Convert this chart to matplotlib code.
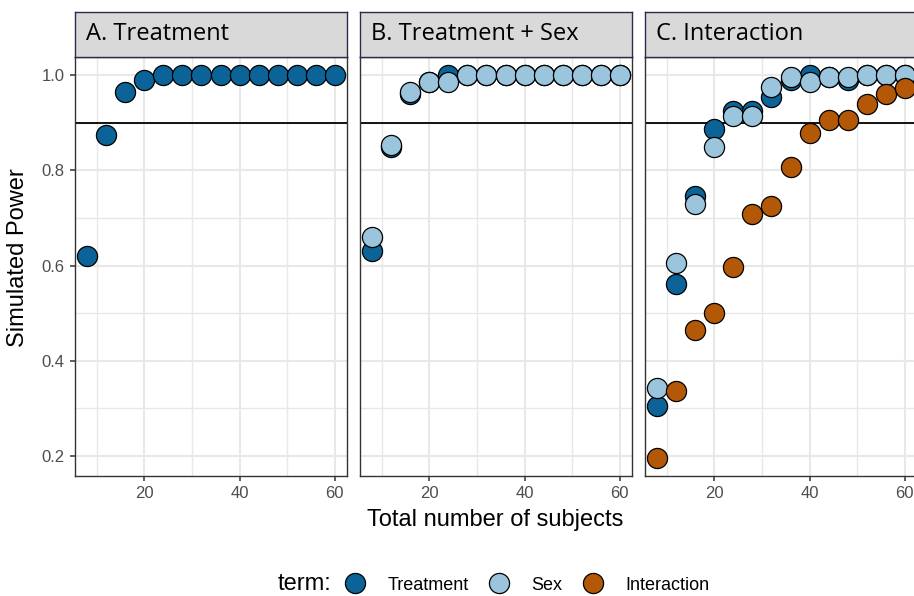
import matplotlib
matplotlib.use("Agg")
import matplotlib.pyplot as plt
from matplotlib.lines import Line2D

# ── Datos ────────────────────────────────────────────────────────────────
n_subjects = [8, 12, 16, 20, 24, 28, 32, 36, 40, 44, 48, 52, 56, 60]

# A. Treatment
a_treatment = [0.62, 0.875, 0.965, 0.99, 1.0, 1.0, 1.0, 1.0, 1.0, 1.0, 1.0, 1.0, 1.0, 1.0]

# B. Treatment + Sex
b_treatment = [0.63, 0.848, 0.96, 0.985, 1.0, 1.0, 1.0, 1.0, 1.0, 1.0, 1.0, 1.0, 1.0, 1.0]
b_sex       = [0.66, 0.853, 0.964, 0.985, 0.985, 1.0, 1.0, 1.0, 1.0, 1.0, 1.0, 1.0, 1.0, 1.0]

# C. Interaction
c_treatment   = [0.305, 0.561, 0.746, 0.886, 0.924, 0.924, 0.953, 0.99, 1.0, 0.996, 0.99, 1.0, 1.0, 1.0]
c_sex         = [0.343, 0.606, 0.730, 0.849, 0.914, 0.914, 0.975, 0.996, 0.986, 0.996, 0.995, 1.0, 1.0, 1.0]
c_interaction = [0.196, 0.337, 0.465, 0.50, 0.596, 0.709, 0.726, 0.806, 0.879, 0.905, 0.905, 0.94, 0.96, 0.972]

panel_titles = ["A. Treatment", "B. Treatment + Sex", "C. Interaction"]
term_labels  = ["Treatment", "Sex", "Interaction"]
term_colors  = {"Treatment": "#0b6397", "Sex": "#9ac5dc", "Interaction": "#b35806"}

paneles = [
    [("Treatment", a_treatment)],
    [("Treatment", b_treatment), ("Sex", b_sex)],
    [("Treatment", c_treatment), ("Sex", c_sex), ("Interaction", c_interaction)],
]

target_power = 0.9

# ── Figura ───────────────────────────────────────────────────────────────
W, H = 914, 596
fig = plt.figure(figsize=(W / 100, H / 100), dpi=100)

TXT = "Liberation Sans"
STRIP = "Open Sans"
grid_c = "#e8e8e8"

lefts = [75, 360, 645]
pw = 272
top, bottom = 57, 476
strip_top = 12

for i, (left, serie) in enumerate(zip(lefts, paneles)):
    ax = fig.add_axes([left / W, 1 - bottom / H, pw / W, (bottom - top) / H])
    ax.set_xlim(5.4, 62.6)
    ax.set_ylim(0.158, 1.038)
    ax.set_xticks([20, 40, 60])
    ax.set_xticks([10, 30, 50], minor=True)
    ax.set_yticks([0.2, 0.4, 0.6, 0.8, 1.0])
    ax.set_yticks([0.3, 0.5, 0.7, 0.9], minor=True)
    ax.grid(True, which="major", color=grid_c, lw=1.5, zorder=0)
    ax.grid(True, which="minor", color=grid_c, lw=1.0, zorder=0)
    ax.set_axisbelow(True)
    for s in ax.spines.values():
        s.set_color("#333333")
        s.set_linewidth(1.0)
    ax.tick_params(which="major", length=3.5, width=1.1, color="#333333",
                   labelsize=12, labelcolor="#4d4d4d", pad=4)
    ax.tick_params(which="minor", length=0)
    for lab in ax.get_xticklabels() + ax.get_yticklabels():
        lab.set_fontfamily(TXT)
    if i == 0:
        ax.set_yticklabels(["0.2", "0.4", "0.6", "0.8", "1.0"])
    else:
        ax.tick_params(axis="y", which="both", left=False, labelleft=False)

    ax.axhline(target_power, color="black", lw=1.3, zorder=2)

    for term, vals in serie:
        ax.scatter(n_subjects, vals, s=210, c=term_colors[term],
                   edgecolors="black", linewidths=0.9, zorder=3, clip_on=False)

    # Franja del panel
    sax = fig.add_axes([left / W, 1 - top / H, pw / W, (top - strip_top) / H])
    sax.set_xticks([])
    sax.set_yticks([])
    sax.set_facecolor("#d9d9d9")
    for s in sax.spines.values():
        s.set_color("#2b2b4b")
        s.set_linewidth(1.0)
    sax.text(11 / pw, 0.5, panel_titles[i], transform=sax.transAxes,
             ha="left", va="center", fontsize=17, family=STRIP, color="black")

# Títulos de ejes
fig.text(18 / W, 1 - 258 / H, "Simulated Power", rotation=90, ha="center",
         va="center", fontsize=17, family=TXT, color="black")
fig.text(495 / W, 1 - 520 / H, "Total number of subjects", ha="center",
         va="center", fontsize=17, family=TXT, color="black")

# Leyenda
fig.text(278 / W, 1 - 584 / H, "term:", ha="left", va="center",
         fontsize=17, family=TXT, color="black")
handles = [Line2D([], [], ls="none", marker="o", markersize=14.5,
                  markerfacecolor=term_colors[t], markeredgecolor="black",
                  markeredgewidth=0.9) for t in term_labels]
leg = fig.legend(handles, term_labels, loc="center left",
                 bbox_to_anchor=(346 / W, 1 - 585 / H), ncol=3, frameon=False,
                 handletextpad=1.28, columnspacing=1.2, handlelength=1.0,
                 prop={"family": TXT, "size": 13}, borderaxespad=0, borderpad=0)

fig.savefig("out.png", dpi=100)
